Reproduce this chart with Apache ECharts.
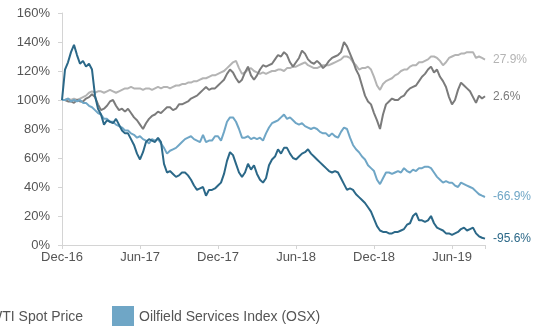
<!DOCTYPE html>
<html>
<head>
<meta charset="utf-8">
<style>
  html, body { margin: 0; padding: 0; background: #ffffff; }
  #chart { width: 536px; height: 326px; }
</style>
<script src="https://cdn.jsdelivr.net/npm/echarts@6/dist/echarts.min.js"></script>
</head>
<body>
<div id="chart"></div>
<script>
// Weekly index levels, rebased to 100% at the start (week 0 = early Dec 2016)
const tickLabels = ['Dec-16', 'Jun-17', 'Dec-17', 'Jun-18', 'Dec-18', 'Jun-19'];
const weeksPerTick = 26;
const lastWeek = 141;

const sp500 = [
  100,100,101,100,101,100,101,102,103,105,106,105,106,106,105,106,107,106,105,106,
  107,108,108,109,108,108,108,107,108,108,107,108,109,108,109,109,108,109,110,110,
  111,111,112,112,113,113,114,115,115,116,117,117,118,119,120,122,124,126,127,122,
  118,119,121,122,120,119,118,119,118,119,120,120,121,121,120,122,122,123,123,124,
  125,126,124,123,122,122,123,124,124,124,125,126,127,128,130,130,129,126,124,121,
  122,122,123,121,116,110,107,111,113,114,115,117,118,120,121,121,123,124,124,126,
  126,127,128,130,130,129,127,124,126,129,130,131,131,132,132,133,133,133,129,130,
  129,127.9
];

const wti = [
  100,100,99,99,98,100,99,99,101,102,104,102,97,93,94,96,99,100,96,93,
  94,92,94,91,88,86,83,80,84,87,89,90,92,91,93,95,95,93,94,97,
  97,98,99,101,102,103,105,107,109,107,108,108,110,112,114,118,121,119,115,112,
  114,119,123,117,114,117,121,124,123,124,125,128,131,130,133,131,126,123,126,129,
  134,132,128,126,125,127,125,122,124,127,129,130,131,133,140,137,132,127,121,117,
  110,103,99,97,91,86,80,90,97,99,101,100,100,102,103,106,108,109,110,113,
  116,118,121,123,119,121,116,113,109,102,97,100,107,112,110,108,106,102,98,103,
  101,102.6
];

const osx = [
  100,100,101,99,100,99,100,98,98,96,95,93,91,90,87,87,85,85,83,82,
  81,79,79,77,76,74,75,73,72,70,73,72,73,70,67,63,65,66,67,69,
  71,73,74,75,73,72,71,76,71,72,72,75,75,72,78,85,88,88,85,80,
  74,74,75,73,74,73,74,72,77,81,84,85,86,88,90,87,88,86,84,83,
  84,82,81,80,81,80,78,77,77,75,77,75,74,78,81,80,74,69,66,64,
  61,59,55,53,51,45,42,46,50,50,49,50,51,50,53,51,50,52,51,53,
  53,54,54,53,50,47,45,43,44,43,43,41,40,43,42,41,40,39,37,35,
  34,33.1
];

const driller = [
  100,121,126,133,138,131,125,127,123,125,121,103,94,90,83,86,85,84,87,83,
  79,77,77,73,69,63,59,64,71,73,72,71,74,71,56,50,51,49,47,48,
  50,50,48,45,41,38,39,40,34,38,38,39,41,43,49,58,64,62,56,50,
  47,50,56,52,55,49,45,43,46,55,59,61,66,63,67,67,63,60,59,61,
  63,64,66,63,61,59,57,55,53,51,50,51,50,46,42,38,39,38,35,33,
  31,29,26,23,18,13,10,9,9,8,8,9,9,10,11,14,15,20,22,17,
  17,16,17,20,15,12,11,10,8,8,7,8,9,11,12,10,11,12,8,6,
  5,4.4
];

const seriesDefs = [
  { name: 'S&P 500',                       values: sp500,   color: '#b4b4b4' },
  { name: 'WTI Spot Price',                values: wti,     color: '#7b7b7b' },
  { name: 'Oilfield Services Index (OSX)', values: osx,     color: '#6fa6c6' },
  { name: 'Offshore Driller',              values: driller, color: '#2b6888' }
];

const chart = echarts.init(document.getElementById('chart'), null, { renderer: 'canvas' });

const legendText = { fontFamily: 'Liberation Sans, Arial, sans-serif', fontSize: 14, color: '#555555' };

const option = {
  animation: false,
  backgroundColor: '#ffffff',
  textStyle: { fontFamily: 'Liberation Sans, Arial, sans-serif' },
  grid: { left: 62, right: 51, top: 13, bottom: 81, containLabel: false },
  legend: [
    {
      data: ['WTI Spot Price'],
      left: -43, top: 301,
      icon: 'rect', itemWidth: 22, itemHeight: 23,
      textStyle: legendText
    },
    {
      data: ['Oilfield Services Index (OSX)'],
      left: 107, top: 301,
      icon: 'rect', itemWidth: 22, itemHeight: 23,
      textStyle: legendText
    }
  ],
  xAxis: {
    type: 'value',
    min: 0, max: lastWeek, interval: weeksPerTick,
    axisLine: { show: true, lineStyle: { color: '#d4d4d4', width: 1 } },
    axisTick: { show: true, length: 4, lineStyle: { color: '#d4d4d4' } },
    splitLine: { show: false },
    axisLabel: {
      color: '#555555', fontSize: 13, margin: 6,
      formatter: v => (v % weeksPerTick === 0 ? (tickLabels[v / weeksPerTick] || '') : '')
    }
  },
  yAxis: {
    type: 'value',
    min: 0, max: 160, interval: 20,
    axisLine: { show: true, lineStyle: { color: '#d4d4d4', width: 1 } },
    axisTick: { show: true, length: 4, lineStyle: { color: '#d4d4d4' } },
    splitLine: { show: false },
    axisLabel: { color: '#555555', fontSize: 13, margin: 12, formatter: '{value}%' }
  },
  series: seriesDefs.map(s => ({
    name: s.name,
    type: 'line',
    data: s.values.map((v, i) => [i, v]),
    showSymbol: false,
    symbol: 'none',
    lineStyle: { color: s.color, width: 2 },
    itemStyle: { color: s.color },
    endLabel: {
      show: true,
      distance: 8,
      color: s.color,
      fontSize: 12,
      formatter: p => (p.value[1] - 100).toFixed(1) + '%'
    }
  }))
};

chart.setOption(option);
</script>
</body>
</html>
